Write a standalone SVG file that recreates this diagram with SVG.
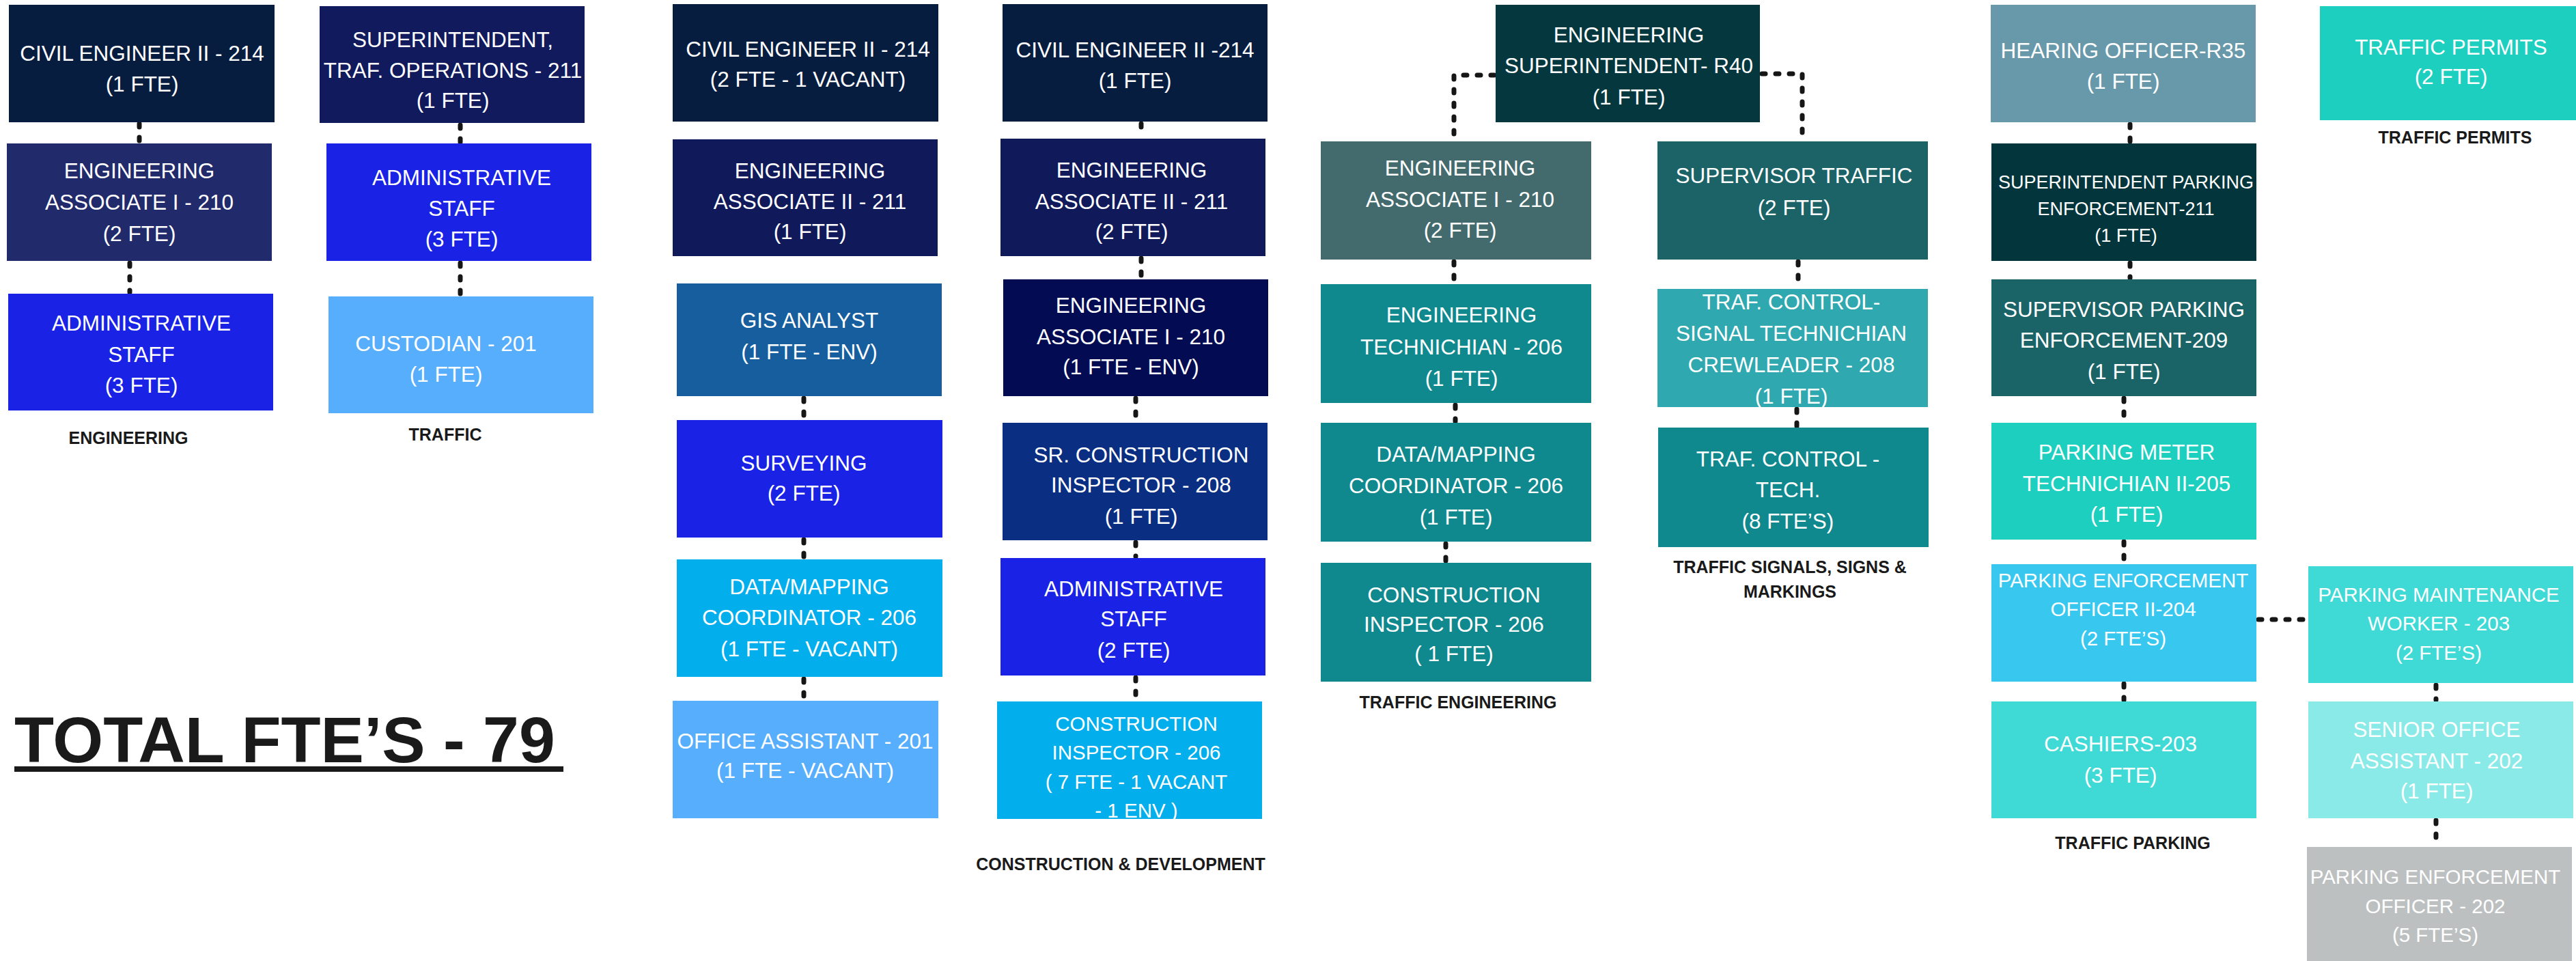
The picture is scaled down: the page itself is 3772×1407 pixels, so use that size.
<svg xmlns="http://www.w3.org/2000/svg" width="3772" height="1407" viewBox="0 0 3772 1407">
<style>
.t{font-family:"Liberation Sans",Arial,sans-serif;font-size:31.5px;fill:#ffffff;text-anchor:middle}
.s{font-size:27px}
.m{font-size:29.5px}
.lbl{font-family:"Liberation Sans",Arial,sans-serif;font-size:25px;font-weight:bold;fill:#1a1a1a;text-anchor:middle}
.c{fill:none;stroke:#161616;stroke-width:7;stroke-linecap:round;stroke-dasharray:5 15}
</style>
<rect width="3772" height="1407" fill="#ffffff"/>
<g id="connectors">
<path class="c" d="M204,181V208"/>
<path class="c" d="M190,385V428"/>
<path class="c" d="M674,183V208"/>
<path class="c" d="M674,385V432"/>
<path class="c" d="M1177,583V613"/>
<path class="c" d="M1177,790V817"/>
<path class="c" d="M1177,994V1024"/>
<path class="c" d="M1671,181V201"/>
<path class="c" d="M1671,378V407"/>
<path class="c" d="M1663,583V617"/>
<path class="c" d="M1663,794V815"/>
<path class="c" d="M1663,992V1025"/>
<path class="c" d="M2188,110H2129V205"/>
<path class="c" d="M2580,108H2639V205"/>
<path class="c" d="M2129,383V414"/>
<path class="c" d="M2131,593V617"/>
<path class="c" d="M2117,796V822"/>
<path class="c" d="M2633,383V421"/>
<path class="c" d="M2631,599V624"/>
<path class="c" d="M3119,182V208"/>
<path class="c" d="M3119,385V407"/>
<path class="c" d="M3110,583V617"/>
<path class="c" d="M3110,793V824"/>
<path class="c" d="M3110,1001V1025"/>
<path class="c" d="M3307,907H3378"/>
<path class="c" d="M3567,1003V1025"/>
<path class="c" d="M3567,1201V1238"/>
</g>
<g id="n-eng-civil"><rect x="13" y="7" width="389" height="172" fill="#071d40"/><text class="t"><tspan x="208" y="89">CIVIL ENGINEER II -  214</tspan><tspan x="208" y="134">(1 FTE)</tspan></text></g>
<g id="n-eng-assoc"><rect x="10" y="210" width="388" height="172" fill="#212a6b"/><text class="t"><tspan x="204" y="261">ENGINEERING</tspan><tspan x="204" y="307">ASSOCIATE I - 210</tspan><tspan x="204" y="353">(2 FTE)</tspan></text></g>
<g id="n-eng-admin"><rect x="12" y="430" width="388" height="171" fill="#1922e5"/><text class="t"><tspan x="207" y="484">ADMINISTRATIVE</tspan><tspan x="207" y="530">STAFF</tspan><tspan x="207" y="575">(3 FTE)</tspan></text></g>
<g id="n-tr-supt"><rect x="468" y="9" width="388" height="171" fill="#111a5c"/><text class="t"><tspan x="663" y="69">SUPERINTENDENT,</tspan><tspan x="663" y="114">TRAF. OPERATIONS - 211</tspan><tspan x="663" y="158">(1 FTE)</tspan></text></g>
<g id="n-tr-admin"><rect x="478" y="210" width="388" height="172" fill="#1922e5"/><text class="t"><tspan x="676" y="271">ADMINISTRATIVE</tspan><tspan x="676" y="316">STAFF</tspan><tspan x="676" y="361">(3 FTE)</tspan></text></g>
<g id="n-tr-cust"><rect x="481" y="434" width="388" height="171" fill="#57aefc"/><text class="t"><tspan x="653" y="514">CUSTODIAN - 201</tspan><tspan x="653" y="559">(1 FTE)</tspan></text></g>
<g id="n-cd-civil1"><rect x="985" y="6" width="389" height="172" fill="#071d40"/><text class="t"><tspan x="1183" y="83">CIVIL ENGINEER II - 214</tspan><tspan x="1183" y="127">(2 FTE - 1 VACANT)</tspan></text></g>
<g id="n-cd-assoc2a"><rect x="985" y="204" width="388" height="171" fill="#101a5a"/><text class="t"><tspan x="1186" y="261">ENGINEERING</tspan><tspan x="1186" y="306">ASSOCIATE II - 211</tspan><tspan x="1186" y="350">(1 FTE)</tspan></text></g>
<g id="n-cd-gis"><rect x="991" y="415" width="388" height="165" fill="#165e9e"/><text class="t"><tspan x="1185" y="480">GIS ANALYST</tspan><tspan x="1185" y="526">(1 FTE - ENV)</tspan></text></g>
<g id="n-cd-survey"><rect x="991" y="615" width="389" height="172" fill="#1922e5"/><text class="t"><tspan x="1177" y="689">SURVEYING</tspan><tspan x="1177" y="733">(2 FTE)</tspan></text></g>
<g id="n-cd-data"><rect x="991" y="819" width="389" height="172" fill="#03aeec"/><text class="t"><tspan x="1185" y="870">DATA/MAPPING</tspan><tspan x="1185" y="915">COORDINATOR - 206</tspan><tspan x="1185" y="961">(1 FTE - VACANT)</tspan></text></g>
<g id="n-cd-office"><rect x="985" y="1026" width="389" height="172" fill="#57aefc"/><text class="t"><tspan x="1179" y="1096">OFFICE ASSISTANT - 201</tspan><tspan x="1179" y="1139">(1 FTE - VACANT)</tspan></text></g>
<g id="n-cd-civil2"><rect x="1468" y="6" width="388" height="172" fill="#071d40"/><text class="t"><tspan x="1662" y="84">CIVIL ENGINEER II -214</tspan><tspan x="1662" y="129">(1 FTE)</tspan></text></g>
<g id="n-cd-assoc2b"><rect x="1465" y="203" width="388" height="172" fill="#101a5a"/><text class="t"><tspan x="1657" y="260">ENGINEERING</tspan><tspan x="1657" y="306">ASSOCIATE II - 211</tspan><tspan x="1657" y="350">(2 FTE)</tspan></text></g>
<g id="n-cd-assoc1"><rect x="1469" y="409" width="388" height="171" fill="#030b53"/><text class="t"><tspan x="1656" y="458">ENGINEERING</tspan><tspan x="1656" y="504">ASSOCIATE I - 210</tspan><tspan x="1656" y="548">(1 FTE - ENV)</tspan></text></g>
<g id="n-cd-srinsp"><rect x="1468" y="619" width="388" height="172" fill="#0a2e82"/><text class="t"><tspan x="1671" y="677">SR. CONSTRUCTION</tspan><tspan x="1671" y="721">INSPECTOR - 208</tspan><tspan x="1671" y="767">(1 FTE)</tspan></text></g>
<g id="n-cd-admin"><rect x="1465" y="817" width="388" height="172" fill="#1922e5"/><text class="t"><tspan x="1660" y="873">ADMINISTRATIVE</tspan><tspan x="1660" y="917">STAFF</tspan><tspan x="1660" y="963">(2 FTE)</tspan></text></g>
<g id="n-cd-insp"><rect x="1460" y="1027" width="388" height="172" fill="#03aeec"/><text class="t m"><tspan x="1664" y="1070">CONSTRUCTION</tspan><tspan x="1664" y="1112">INSPECTOR - 206</tspan><tspan x="1664" y="1155">( 7 FTE - 1 VACANT</tspan><tspan x="1664" y="1197">- 1 ENV )</tspan></text></g>
<g id="n-te-supt"><rect x="2190" y="7" width="387" height="172" fill="#05383e"/><text class="t"><tspan x="2385" y="62">ENGINEERING</tspan><tspan x="2385" y="107">SUPERINTENDENT- R40</tspan><tspan x="2385" y="153">(1 FTE)</tspan></text></g>
<g id="n-te-assoc"><rect x="1934" y="207" width="396" height="173" fill="#436b6d"/><text class="t"><tspan x="2138" y="257">ENGINEERING</tspan><tspan x="2138" y="303">ASSOCIATE I - 210</tspan><tspan x="2138" y="348">(2 FTE)</tspan></text></g>
<g id="n-te-tech"><rect x="1934" y="416" width="396" height="174" fill="#10898e"/><text class="t"><tspan x="2140" y="472">ENGINEERING</tspan><tspan x="2140" y="519">TECHNICHIAN - 206</tspan><tspan x="2140" y="565">(1 FTE)</tspan></text></g>
<g id="n-te-data"><rect x="1934" y="619" width="396" height="174" fill="#10898e"/><text class="t"><tspan x="2132" y="676">DATA/MAPPING</tspan><tspan x="2132" y="722">COORDINATOR - 206</tspan><tspan x="2132" y="768">(1 FTE)</tspan></text></g>
<g id="n-te-insp"><rect x="1934" y="824" width="396" height="174" fill="#10898e"/><text class="t"><tspan x="2129" y="882">CONSTRUCTION</tspan><tspan x="2129" y="925">INSPECTOR - 206</tspan><tspan x="2129" y="968">( 1 FTE)</tspan></text></g>
<g id="n-ts-sup"><rect x="2427" y="207" width="396" height="173" fill="#1b6367"/><text class="t"><tspan x="2627" y="268">SUPERVISOR TRAFFIC</tspan><tspan x="2627" y="315">(2 FTE)</tspan></text></g>
<g id="n-ts-crew"><rect x="2427" y="423" width="396" height="173" fill="#2fa8b0"/><text class="t"><tspan x="2623" y="453">TRAF. CONTROL-</tspan><tspan x="2623" y="499">SIGNAL TECHNICHIAN</tspan><tspan x="2623" y="545">CREWLEADER - 208</tspan><tspan x="2623" y="591">(1 FTE)</tspan></text></g>
<g id="n-ts-tech"><rect x="2428" y="626" width="396" height="175" fill="#10898e"/><text class="t"><tspan x="2618" y="683">TRAF. CONTROL -</tspan><tspan x="2618" y="728">TECH.</tspan><tspan x="2618" y="774">(8 FTE’S)</tspan></text></g>
<g id="n-tp-hear"><rect x="2915" y="7" width="388" height="172" fill="#6899aa"/><text class="t"><tspan x="3109" y="85">HEARING OFFICER-R35</tspan><tspan x="3109" y="130">(1 FTE)</tspan></text></g>
<g id="n-tp-supt"><rect x="2916" y="210" width="388" height="172" fill="#03363c"/><text class="t s"><tspan x="3113" y="276">SUPERINTENDENT PARKING</tspan><tspan x="3113" y="315">ENFORCEMENT-211</tspan><tspan x="3113" y="354">(1 FTE)</tspan></text></g>
<g id="n-tp-sup"><rect x="2916" y="409" width="388" height="171" fill="#1a6367"/><text class="t"><tspan x="3110" y="464">SUPERVISOR PARKING</tspan><tspan x="3110" y="509">ENFORCEMENT-209</tspan><tspan x="3110" y="555">(1 FTE)</tspan></text></g>
<g id="n-tp-meter"><rect x="2916" y="619" width="388" height="171" fill="#1dcfbe"/><text class="t"><tspan x="3114" y="673">PARKING METER</tspan><tspan x="3114" y="719">TECHNICHIAN II-205</tspan><tspan x="3114" y="764">(1 FTE)</tspan></text></g>
<g id="n-tp-peo2"><rect x="2916" y="826" width="388" height="172" fill="#38c8ef"/><text class="t m"><tspan x="3109" y="860">PARKING ENFORCEMENT</tspan><tspan x="3109" y="902">OFFICER II-204</tspan><tspan x="3109" y="945">(2 FTE’S)</tspan></text></g>
<g id="n-tp-cash"><rect x="2916" y="1027" width="388" height="171" fill="#3fd9d6"/><text class="t"><tspan x="3105" y="1100">CASHIERS-203</tspan><tspan x="3105" y="1146">(3 FTE)</tspan></text></g>
<g id="n-tp-maint"><rect x="3380" y="829" width="388" height="171" fill="#3fd9d6"/><text class="t m"><tspan x="3571" y="881">PARKING MAINTENANCE</tspan><tspan x="3571" y="923">WORKER - 203</tspan><tspan x="3571" y="966">(2 FTE’S)</tspan></text></g>
<g id="n-tp-senior"><rect x="3380" y="1027" width="388" height="171" fill="#8aeae8"/><text class="t"><tspan x="3568" y="1079">SENIOR OFFICE</tspan><tspan x="3568" y="1125">ASSISTANT - 202</tspan><tspan x="3568" y="1169">(1 FTE)</tspan></text></g>
<g id="n-tp-peo"><rect x="3378" y="1240" width="388" height="167" fill="#bdc0c1"/><text class="t m"><tspan x="3566" y="1294">PARKING ENFORCEMENT</tspan><tspan x="3566" y="1337">OFFICER - 202</tspan><tspan x="3566" y="1379">(5 FTE’S)</tspan></text></g>
<g id="n-permits"><rect x="3397" y="9" width="375" height="167" fill="#1dcfbf"/><text class="t"><tspan x="3589" y="80">TRAFFIC PERMITS</tspan><tspan x="3589" y="123">(2 FTE)</tspan></text></g>
<g id="labels">
<text class="lbl" x="188" y="650">ENGINEERING</text>
<text class="lbl" x="652" y="645">TRAFFIC</text>
<text class="lbl" x="1641" y="1274">CONSTRUCTION &amp; DEVELOPMENT</text>
<text class="lbl" x="2135" y="1037">TRAFFIC ENGINEERING</text>
<text class="lbl"><tspan x="2621" y="839">TRAFFIC SIGNALS, SIGNS &amp;</tspan><tspan x="2621" y="875">MARKINGS</tspan></text>
<text class="lbl" x="3123" y="1243">TRAFFIC PARKING</text>
<text class="lbl" x="3595" y="210">TRAFFIC PERMITS</text>
</g>
<g id="total">
<text x="21" y="1116" style="font-family:'Liberation Sans',Arial,sans-serif;font-size:95px;font-weight:bold;fill:#1a1a1a">TOTAL FTE’S - 79</text>
<rect x="21" y="1122" width="804" height="8" fill="#1a1a1a"/>
</g>
</svg>
